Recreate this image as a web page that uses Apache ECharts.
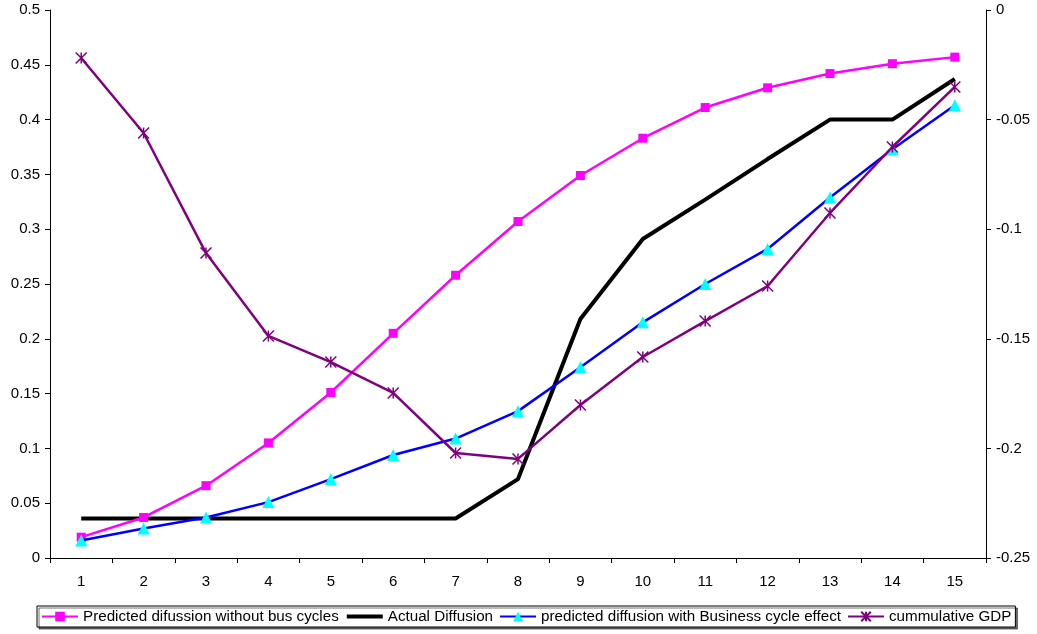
<!DOCTYPE html>
<html><head><meta charset="utf-8">
<script src="https://cdn.jsdelivr.net/npm/echarts@6/dist/echarts.min.js"></script>
<style>html,body{margin:0;padding:0;background:#fff}#c{width:1037px;height:634px}</style>
</head><body><div id="c"></div>
<script>
const categories = ['1','2','3','4','5','6','7','8','9','10','11','12','13','14','15'];
const predictedNoCycles = [0.019,0.037,0.066,0.105,0.151,0.205,0.258,0.307,0.349,0.383,0.411,0.429,0.442,0.451,0.457];
const actualDiffusion = [0.036,0.036,0.036,0.036,0.036,0.036,0.036,0.072,0.218,0.291,0.327,0.364,0.400,0.400,0.437];
const predictedWithCycles = [0.016,0.027,0.037,0.051,0.072,0.094,0.109,0.134,0.174,0.215,0.250,0.282,0.329,0.373,0.413];
const cumulativeGDP = [-0.0219,-0.0561,-0.1109,-0.1487,-0.1606,-0.1747,-0.2021,-0.2048,-0.1802,-0.1583,-0.1419,-0.1259,-0.0926,-0.0625,-0.0351];
const seriesNames = ['Predicted difussion without bus cycles','Actual Diffusion','predicted diffusion with Business cycle effect','cummulative GDP'];

const chart = echarts.init(document.getElementById('c'), null, {renderer:'canvas'});
const font = 'Liberation Sans, Arial, sans-serif';
const axisLabel = {color:'#000', fontSize:15, fontFamily:font};
chart.setOption({
  animation:false,
  backgroundColor:'#fff',
  grid:{left:50, right:51, top:10, bottom:76},
  xAxis:{type:'category', data:categories, boundaryGap:true,
    axisLine:{lineStyle:{color:'#000', width:1}},
    axisTick:{show:true, length:5, lineStyle:{color:'#000'}},
    axisLabel:Object.assign({margin:16}, axisLabel)},
  yAxis:[
    {type:'value', min:0, max:0.5, interval:0.05, position:'left',
     axisLine:{show:true, lineStyle:{color:'#000'}}, axisTick:{show:true, length:5, lineStyle:{color:'#000'}},
     splitLine:{show:false}, axisLabel:Object.assign({margin:10}, axisLabel)},
    {type:'value', min:-0.25, max:0, interval:0.05, position:'right',
     axisLine:{show:true, lineStyle:{color:'#000'}}, axisTick:{show:true, length:5, lineStyle:{color:'#000'}},
     splitLine:{show:false}, axisLabel:Object.assign({margin:10}, axisLabel)}
  ],
  legend:{bottom:7, left:37, itemWidth:36, itemHeight:12, itemGap:6,
    padding:[3,4,3,4], borderColor:'#000', borderWidth:1, backgroundColor:'#fff',
    shadowColor:'rgba(0,0,0,0.55)', shadowOffsetX:2, shadowOffsetY:2, shadowBlur:0,
    textStyle:{color:'#000', fontSize:15.2, fontFamily:font},
    data:[seriesNames[0],
      {name:seriesNames[1], itemStyle:{color:'rgba(0,0,0,0)', borderWidth:0, opacity:0}, lineStyle:{width:4}},
      seriesNames[2], seriesNames[3]]},
  series:[
    {name:seriesNames[0], type:'line', data:predictedNoCycles, yAxisIndex:0,
     symbol:'rect', symbolSize:9, lineStyle:{color:'#FF00FF', width:2.5}, itemStyle:{color:'#FF00FF'}, z:3},
    {name:seriesNames[1], type:'line', data:actualDiffusion, yAxisIndex:0,
     symbol:'none', showSymbol:false, lineStyle:{color:'#000', width:4}, itemStyle:{color:'#000'}, z:2},
    {name:seriesNames[2], type:'line', data:predictedWithCycles, yAxisIndex:0,
     symbol:'triangle', symbolSize:12, lineStyle:{color:'#0000FF', width:2.5}, itemStyle:{color:'#00FFFF'}, z:4},
    {name:seriesNames[3], type:'line', data:cumulativeGDP, yAxisIndex:1,
     symbol:'path://M0,0L10,10M10,0L0,10M5,0L5,10', symbolSize:11,
     lineStyle:{color:'#800080', width:2.5},
     itemStyle:{color:'rgba(0,0,0,0)', borderColor:'#800080', borderWidth:1.5}, z:5}
  ]
});
</script></body></html>
